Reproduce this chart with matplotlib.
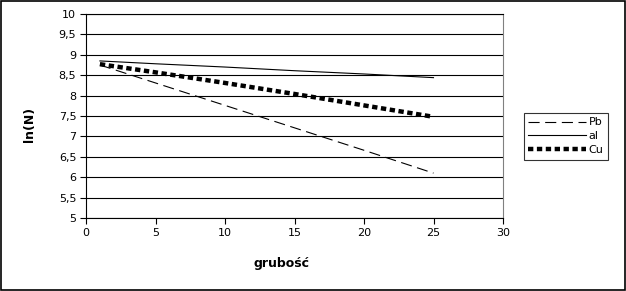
import matplotlib
matplotlib.use("Agg")
import matplotlib.pyplot as plt
from matplotlib.ticker import FuncFormatter, MultipleLocator

# grubosc vs ln(N)
x = [1, 5, 10, 15, 20, 25]
pb = [8.75, 8.31, 7.76, 7.21, 6.66, 6.10]
al = [8.85, 8.78, 8.70, 8.61, 8.53, 8.44]
cu = [8.77, 8.57, 8.31, 8.04, 7.76, 7.48]

plt.rcParams['font.family'] = 'DejaVu Sans'
plt.rcParams['font.size'] = 8

fig = plt.figure(figsize=(6.26, 2.91), dpi=100)
ax = fig.add_axes([86/626, 1-218/291, 417/626, 204/291])

ax.plot(x, pb, color='black', lw=0.8, dashes=(10, 5), label='Pb')
ax.plot(x, al, color='black', lw=0.8, label='al')
ax.plot(x, cu, color='black', lw=3.2, dashes=(1.2, 0.8), label='Cu')

ax.set_xlim(0, 30)
ax.set_ylim(5, 10)
ax.xaxis.set_major_locator(MultipleLocator(5))
ax.yaxis.set_major_locator(MultipleLocator(0.5))
fmt = FuncFormatter(lambda v, p: ('%g' % v).replace('.', ','))
ax.yaxis.set_major_formatter(fmt)
ax.grid(axis='y', color='black', lw=0.8)
ax.set_axisbelow(True)
ax.tick_params(direction='out', length=4, width=0.8, colors='black', pad=3)

for s in ['top', 'left', 'bottom']:
    ax.spines[s].set_color('black')
    ax.spines[s].set_linewidth(0.8)
ax.spines['right'].set_color('#808080')
ax.spines['right'].set_linewidth(0.8)

ax.set_xlabel('grubość', fontweight='bold', fontsize=9)
ax.set_ylabel('ln(N)', fontweight='bold', fontsize=9)
ax.xaxis.set_label_coords(0.47, -0.19)
ax.yaxis.set_label_coords(-0.12, 0.46)

leg = fig.legend(loc='upper left', bbox_to_anchor=(524/626, 1-113/291),
                 frameon=True, fancybox=False, edgecolor='black',
                 handlelength=5.2, handletextpad=0.2, borderpad=0.4,
                 labelspacing=0.35, borderaxespad=0)
leg.get_frame().set_linewidth(0.8)

# black border round the whole picture
fig.patches.append(plt.Rectangle((0.0008, 0.002), 0.998, 0.996, transform=fig.transFigure,
                                 fill=False, edgecolor='black', lw=1.2))

fig.savefig('out.png', dpi=100)
